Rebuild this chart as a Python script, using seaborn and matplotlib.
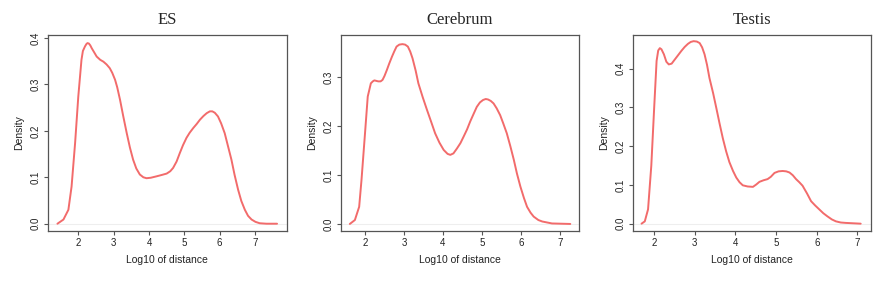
import matplotlib
matplotlib.use("Agg")
import matplotlib.pyplot as plt
import seaborn as sns
import pandas as pd

# density curves (x = log10 of distance, y = density)
es_x = [1.41, 1.58, 1.72, 1.81, 1.91, 2.00, 2.09, 2.13, 2.19, 2.23, 2.26, 2.30, 2.34,
        2.38, 2.45, 2.52, 2.62, 2.71, 2.80, 2.89, 2.96, 3.04, 3.10, 3.18, 3.27, 3.37,
        3.46, 3.55, 3.64, 3.74, 3.84, 3.93, 4.05, 4.21, 4.36, 4.50, 4.60, 4.68, 4.78,
        4.87, 4.96, 5.06, 5.15, 5.25, 5.35, 5.44, 5.54, 5.63, 5.72, 5.79, 5.86, 5.95,
        6.04, 6.14, 6.23, 6.33, 6.42, 6.52, 6.61, 6.71, 6.80, 6.90, 7.01, 7.13, 7.32,
        7.62]
es_y = [0.000, 0.009, 0.030, 0.080, 0.174, 0.274, 0.353, 0.372, 0.382, 0.387, 0.389,
        0.388, 0.384, 0.378, 0.369, 0.360, 0.353, 0.349, 0.343, 0.335, 0.325, 0.310,
        0.294, 0.267, 0.232, 0.195, 0.164, 0.138, 0.119, 0.106, 0.100, 0.098, 0.099,
        0.102, 0.105, 0.108, 0.113, 0.120, 0.134, 0.152, 0.169, 0.185, 0.196, 0.206,
        0.215, 0.224, 0.232, 0.238, 0.242, 0.242, 0.239, 0.231, 0.216, 0.195, 0.168,
        0.138, 0.105, 0.073, 0.049, 0.030, 0.017, 0.009, 0.004, 0.001, 0.000, 0.000]

cer_x = [1.61, 1.74, 1.85, 1.91, 2.00, 2.07, 2.15, 2.20, 2.24, 2.29, 2.34, 2.40, 2.45,
         2.50, 2.56, 2.62, 2.69, 2.75, 2.81, 2.88, 2.96, 3.03, 3.10, 3.16, 3.22, 3.30,
         3.37, 3.48, 3.59, 3.70, 3.80, 3.91, 4.02, 4.12, 4.19, 4.27, 4.36, 4.45, 4.53,
         4.62, 4.70, 4.79, 4.87, 4.95, 5.03, 5.10, 5.16, 5.23, 5.30, 5.38, 5.47, 5.55,
         5.64, 5.73, 5.82, 5.90, 5.99, 6.08, 6.16, 6.25, 6.33, 6.45, 6.55, 6.80, 7.27]
cer_y = [0.000, 0.008, 0.035, 0.090, 0.185, 0.260, 0.287, 0.291, 0.293, 0.292, 0.291,
         0.291, 0.294, 0.302, 0.314, 0.327, 0.341, 0.352, 0.362, 0.366, 0.367, 0.366,
         0.362, 0.352, 0.338, 0.313, 0.287, 0.259, 0.233, 0.208, 0.185, 0.166, 0.151,
         0.143, 0.141, 0.144, 0.154, 0.165, 0.178, 0.193, 0.209, 0.225, 0.239, 0.248,
         0.253, 0.255, 0.254, 0.251, 0.246, 0.236, 0.222, 0.205, 0.185, 0.159, 0.131,
         0.103, 0.076, 0.053, 0.035, 0.023, 0.015, 0.008, 0.005, 0.001, 0.000]

tes_x = [1.69, 1.77, 1.85, 1.93, 2.00, 2.06, 2.10, 2.14, 2.18, 2.24, 2.30, 2.36, 2.43,
         2.51, 2.59, 2.67, 2.75, 2.83, 2.90, 2.97, 3.05, 3.12, 3.18, 3.24, 3.30, 3.36,
         3.45, 3.53, 3.61, 3.69, 3.77, 3.85, 3.94, 4.02, 4.10, 4.18, 4.30, 4.43, 4.51,
         4.59, 4.69, 4.79, 4.87, 4.96, 5.06, 5.16, 5.25, 5.33, 5.41, 5.49, 5.57, 5.65,
         5.76, 5.86, 5.96, 6.06, 6.16, 6.26, 6.37, 6.47, 6.59, 6.71, 7.08]
tes_y = [0.000, 0.006, 0.037, 0.150, 0.298, 0.420, 0.447, 0.453, 0.450, 0.437, 0.418,
         0.411, 0.413, 0.424, 0.435, 0.446, 0.456, 0.464, 0.469, 0.471, 0.470, 0.466,
         0.455, 0.437, 0.410, 0.376, 0.337, 0.298, 0.258, 0.220, 0.187, 0.159, 0.136,
         0.119, 0.107, 0.099, 0.096, 0.095, 0.101, 0.108, 0.112, 0.115, 0.121, 0.131,
         0.135, 0.136, 0.135, 0.132, 0.125, 0.115, 0.107, 0.098, 0.078, 0.058, 0.047,
         0.037, 0.027, 0.019, 0.011, 0.006, 0.003, 0.002, 0.000]

titles = ["ES", "Cerebrum", "Testis"]
yticks = [[0.0, 0.1, 0.2, 0.3, 0.4], [0.0, 0.1, 0.2, 0.3], [0.0, 0.1, 0.2, 0.3, 0.4]]
xticks = [2, 3, 4, 5, 6, 7]
curves = [(es_x, es_y), (cer_x, cer_y), (tes_x, tes_y)]

sns.set_style("ticks")
plt.rcParams["font.family"] = ["Liberation Sans", "DejaVu Sans"]

fig = plt.figure(figsize=(8.86, 2.82), dpi=100)
lefts = [0.0542, 0.3845, 0.714]
xlims = [(1.144, 7.896), (1.375, 7.505), (1.47, 7.343)]
ylims = [(-0.0156, 0.4065), (-0.0143, 0.3857), (-0.0188, 0.487)]
edge = "#555555"

for i, (cx, cy) in enumerate(curves):
    ax = fig.add_axes([lefts[i], 0.181, 0.2695, 0.695])
    df = pd.DataFrame({"x": cx, "y": cy})
    ax.axhline(0, color="#eeeeee", lw=0.8, zorder=0)
    sns.lineplot(data=df, x="x", y="y", ax=ax, color="#f26b6b", lw=1.4, sort=False,
                 solid_joinstyle="round", solid_capstyle="round")
    ax.set_xlim(*xlims[i])
    ax.set_ylim(*ylims[i])
    ax.set_xticks(xticks)
    ax.set_yticks(yticks[i])
    ax.set_yticklabels([f"{v:.1f}" for v in yticks[i]], rotation=90, va="center")
    ax.tick_params(labelsize=7, length=3, width=0.8, color=edge, labelcolor="#222222", pad=2)
    for s in ax.spines.values():
        s.set_color(edge)
        s.set_linewidth(0.9)
    ax.set_xlabel("Log10 of distance", fontsize=7.5, color="#222222", labelpad=5)
    ax.set_ylabel("Density", fontsize=7.5, color="#222222", labelpad=5)
    ax.set_title(titles[i], fontsize=12, family=["Liberation Serif", "DejaVu Serif"], pad=8)

fig.savefig("out.png", dpi=100)
